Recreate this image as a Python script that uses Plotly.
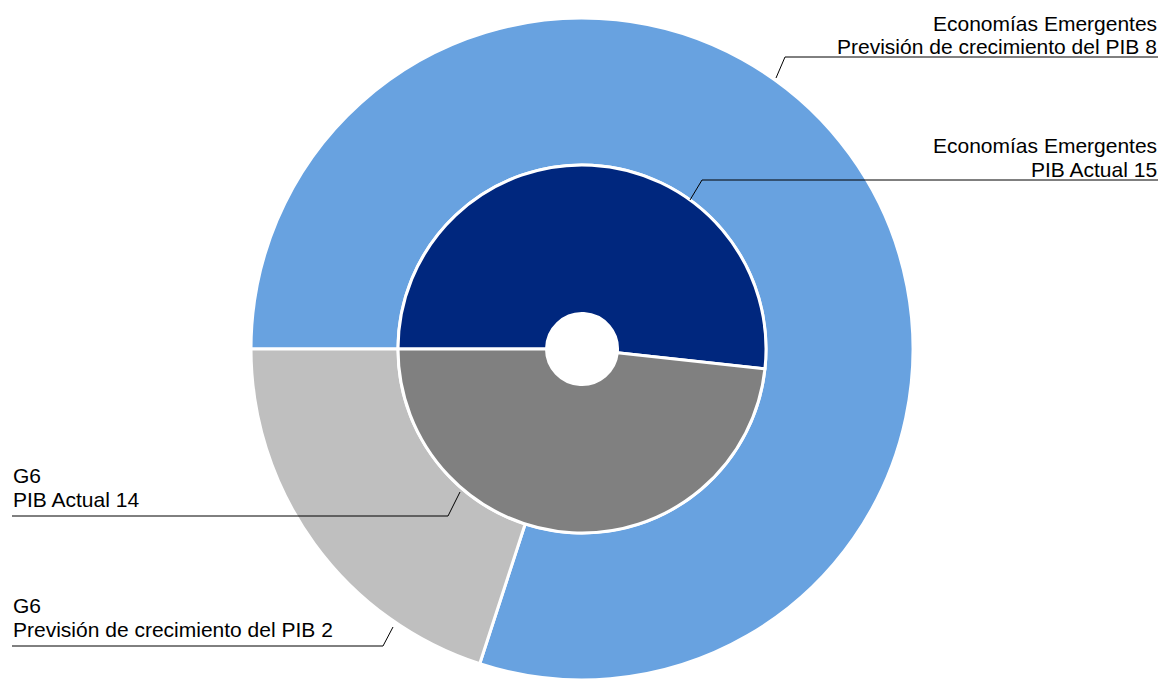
import plotly.graph_objects as go

# ---- data ----
groups = ["Economías Emergentes", "G6"]
outer_series = "Previsión de crecimiento del PIB"
inner_series = "PIB Actual"
outer_values = [8, 2]
inner_values = [15, 14]

outer_colors = ["#68A2E0", "#BFBFBF"]
inner_colors = ["#00277E", "#808080"]

W, H = 1160, 680
MT, MB = 18, 0
PH = H - MT - MB
CX, CY = 582, 349          # page pixels
R_OUT, R_MID, R_HOLE = 331, 184, 35.5


def px(x):
    return x / W


def py(y):
    return (H - MB - y) / PH


def dom(r):
    return dict(x=[px(CX - r), px(CX + r)], y=[max(0.0, py(CY + r)), min(1.0, py(CY - r))])


fig = go.Figure()
fig.add_trace(go.Pie(
    labels=groups, values=outer_values, name=outer_series,
    sort=False, direction="clockwise", rotation=-90,
    hole=R_MID / R_OUT, domain=dom(R_OUT),
    marker=dict(colors=outer_colors, line=dict(color="white", width=3)),
    textinfo="none", showlegend=False,
))
fig.add_trace(go.Pie(
    labels=groups, values=inner_values, name=inner_series,
    sort=False, direction="clockwise", rotation=-90,
    hole=R_HOLE / R_MID, domain=dom(R_MID),
    marker=dict(colors=inner_colors, line=dict(color="white", width=3)),
    textinfo="none", showlegend=False,
))

FS = 21
font = dict(family="Liberation Sans, Arial, sans-serif", size=FS, color="#000000")

# label definitions: (line1, line2, side, baseline1, baseline2, leader path points) in page pixels
labels = [
    (groups[0], f"{outer_series} {outer_values[0]}", "right", 31, 54,
     [(776, 78), (785, 57), (1158, 57)]),
    (groups[0], f"{inner_series} {inner_values[0]}", "right", 153, 177,
     [(690, 200), (702, 180), (1158, 180)]),
    (groups[1], f"{inner_series} {inner_values[1]}", "left", 483, 507,
     [(460, 492), (448, 516), (12, 516)]),
    (groups[1], f"{outer_series} {outer_values[1]}", "left", 613, 637,
     [(393, 627), (383, 646), (12, 646)]),
]

annotations = []
shapes = []
for l1, l2, side, b1, b2, pts in labels:
    xa = 1158 if side == "right" else 12
    for txt, b in ((l1, b1), (l2, b2)):
        annotations.append(dict(
            x=px(xa), y=py(b - 0.35 * FS), xref="paper", yref="paper",
            text=txt, showarrow=False, xanchor=side, yanchor="middle",
            font=font, borderpad=0,
        ))
    for (x0, y0), (x1, y1) in zip(pts[:-1], pts[1:]):
        shapes.append(dict(
            type="line", xref="paper", yref="paper",
            x0=px(x0), y0=py(y0), x1=px(x1), y1=py(y1),
            line=dict(color="#000000", width=1),
        ))

fig.update_layout(
    width=W, height=H,
    margin=dict(l=0, r=0, t=MT, b=MB),
    paper_bgcolor="white", plot_bgcolor="white",
    annotations=annotations, shapes=shapes,
    showlegend=False,
)

fig.write_html(
    "out.html",
    config={"displayModeBar": False},
    post_script="document.body.style.margin='0';document.body.style.overflow='hidden';",
)
